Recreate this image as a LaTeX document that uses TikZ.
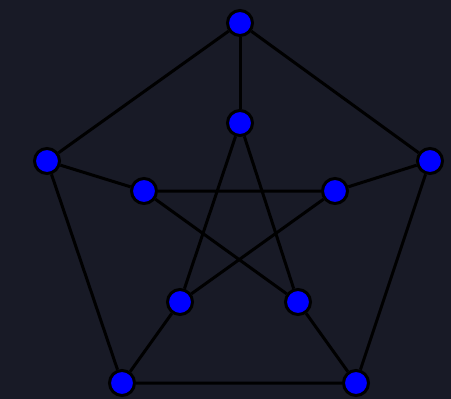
\documentclass[tikz,border=0pt]{standalone}
\usepackage{tikz}
\usetikzlibrary{backgrounds}

\definecolor{bgnavy}{HTML}{181A26}

\begin{document}
\begin{tikzpicture}[
  x=1pt, y=-1pt,
  vert/.style={circle, draw=black, fill=blue, line width=3pt, minimum size=25pt, inner sep=0pt},
  edge/.style={draw=black, line width=3pt}
]

  \useasboundingbox (0,0) rectangle (451,399);

  % outer pentagon
  \node[vert] (o1) at (240,23) {};
  \node[vert] (o2) at (430,161) {};
  \node[vert] (o3) at (356,383) {};
  \node[vert] (o4) at (122,383) {};
  \node[vert] (o5) at (47,161) {};

  % inner star
  \node[vert] (i1) at (240,123) {};
  \node[vert] (i2) at (335,191) {};
  \node[vert] (i3) at (298,302) {};
  \node[vert] (i4) at (180,302) {};
  \node[vert] (i5) at (144,191) {};

  \begin{scope}[on background layer]
    % page background
    \fill[bgnavy] (0,0) rectangle (451,399);
    \draw[edge] (o1) -- (o2) -- (o3) -- (o4) -- (o5) -- (o1);
    \foreach \k in {1,...,5} {
      \draw[edge] (o\k) -- (i\k);
    }
    \draw[edge] (i1) -- (i3) -- (i5) -- (i2) -- (i4) -- (i1);
  \end{scope}

\end{tikzpicture}
\end{document}
